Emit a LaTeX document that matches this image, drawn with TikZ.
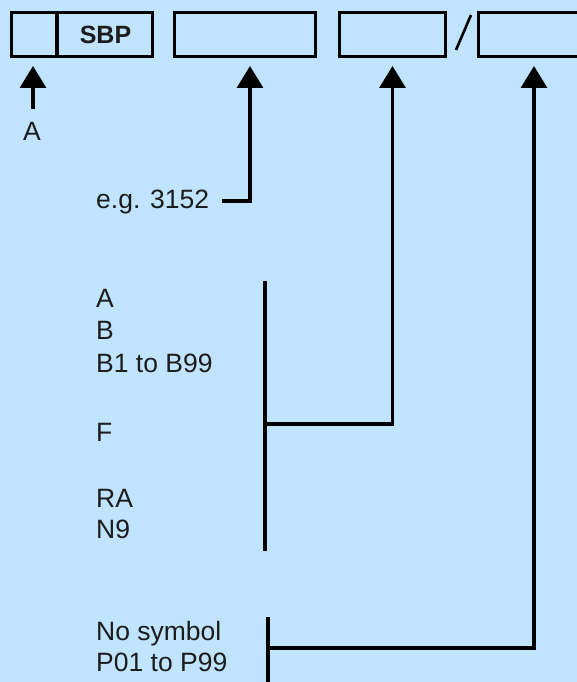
\documentclass[tikz,border=0pt]{standalone}
\usepackage{fontspec}
\setmainfont{Liberation Sans}
\usetikzlibrary{arrows.meta,positioning,calc}
\definecolor{skyback}{RGB}{192,228,253}
\definecolor{inktext}{RGB}{28,28,28}

\begin{document}
\begin{tikzpicture}[
  x=1pt, y=-1pt,
  font=\fontsize{26.5}{32}\selectfont,
  every node/.style={inner sep=0pt, text=inktext},
  field/.style={draw, line width=3.3pt, minimum height=43.7pt},
  entry/.style={anchor=base west},
  bar/.style={line width=3.3pt},
  arr/.style={line width=3.3pt, -{Triangle[length=22pt, width=26pt]}},
]

%% --- Page and background ---
\useasboundingbox (0,0) rectangle (577,682);
\clip (0,0) rectangle (577,682);
\fill[skyback] (0,0) rectangle (577,682);

%% --- Row of fields ---
\node[field, minimum width=140.7pt] (boxPrefix) at ( 82.0, 34.5) {};
\draw[bar] (57,12.5) -- (57,56.5);
\node[font=\fontsize{25}{30}\selectfont\bfseries] (sbp) at (105.5, 34.5) {SBP};
\node[field, minimum width=140.7pt] (boxNum)    at (245.0, 34.5) {};
\node[field, minimum width=105.7pt] (boxSuffix) at (392.5, 34.5) {};
\node[field, minimum width=110.7pt] (boxPart)   at (534.0, 34.5) {};
\draw[line width=2.6pt] (456,50) -- (471,15);

%% --- Texts ---
\node[entry] (lblA)  at ( 23,140) {A};
\node[entry] (lblEg) at ( 96,208) {e.g. 3152};

\node[entry] (sfA)  at (96,307) {A};
\node[entry] (sfB)  at (96,339) {B};
\node[entry] (sfBB) at (96,372) {B1 to B99};
\node[entry] (sfF)  at (96,441) {F};
\node[entry] (sfRA) at (96,507) {RA};
\node[entry] (sfN)  at (96,538) {N9};

\node[entry] (ptNo) at (96,640) {No symbol};
\node[entry] (ptP)  at (96,671) {P01 to P99};

%% --- Brackets ---
\coordinate (brSufTop) at (265,281);
\coordinate (brSufBot) at (265,551);
\coordinate (brSufMid) at (265,424);
\coordinate (brPartTop) at (268,617);
\coordinate (brPartBot) at (268,690);
\coordinate (brPartMid) at (268,648);

\draw[bar] (brSufTop) -- (brSufBot);
\draw[bar] (brPartTop) -- (brPartBot);

%% --- Arrows up to the fields ---
\draw[arr] (33,109) -- ([yshift=-8pt]boxPrefix.south -| 33,0);
\draw[arr] ([xshift=13pt]lblEg.east |- 0,201) -- (250,201) -- ([yshift=-8pt]boxNum.south -| 250,0);
\draw[arr] (brSufMid) -- (boxSuffix.south |- brSufMid) -- ([yshift=-8pt]boxSuffix.south);
\draw[arr] (brPartMid) -- (boxPart.south |- brPartMid) -- ([yshift=-8pt]boxPart.south);

\end{tikzpicture}
\end{document}
